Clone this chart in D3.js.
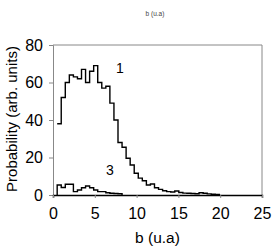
<!DOCTYPE html>
<html>
<head>
<meta charset="utf-8">
<script src="https://cdn.jsdelivr.net/npm/d3@7"></script>
<style>
  body { margin: 0; background: #fff; }
  text { font-family: "Liberation Sans", Arial, sans-serif; fill: #000; }
</style>
</head>
<body>
<div id="chart"></div>
<script>
// histogram bins start at 0.5
const binStart = 0.5;
const binWidth = 0.485;
const curve1 = [38, 52, 60, 64, 63, 62, 67, 60, 66, 69, 60, 57, 58, 49, 40, 28,
  25.5, 19.6, 16, 11.6, 9, 7.6, 5.3, 5.9, 3.9, 3, 2.3, 1.8, 1.6, 2.1, 1.3, 1.0,
  0.9, 0.8, 0.7, 1.2, 0.9, 0.6, 0.4, 0.3];
const curve3 = [5.3, 4.0, 5.7, 5.7, 1.8, 2.7, 3.9, 4.8, 3.9, 2.7, 1.8, 1.8, 1.2,
  0.9, 0.8, 0.7];
const xTicks = [0, 5, 10, 15, 20, 25];
const yTicks = [0, 20, 40, 60, 80];
const curveLabels = [
  { text: '1', x: 8.0, y: 65 },
  { text: '3', x: 6.8, y: 10.5 }
];

const width = 273, height = 249;
const margin = { left: 53, right: 11, top: 45, bottom: 54 };

const svg = d3.select('#chart').append('svg')
  .attr('width', width)
  .attr('height', height);

const x = d3.scaleLinear().domain([0, 25]).range([margin.left, width - margin.right]);
const y = d3.scaleLinear().domain([0, 80]).range([height - margin.bottom, margin.top]);

// small caption at the top
svg.append('text')
  .attr('x', 155)
  .attr('y', 16)
  .attr('text-anchor', 'middle')
  .style('font-size', '6.5px')
  .style('fill', '#444')
  .text('b (u.a)');

// frame: top and right
svg.append('line')
  .attr('x1', x(0)).attr('x2', x(25))
  .attr('y1', y(80)).attr('y2', y(80))
  .attr('stroke', '#888');
svg.append('line')
  .attr('x1', x(25)).attr('x2', x(25))
  .attr('y1', y(80)).attr('y2', y(0))
  .attr('stroke', '#888');

const yAxis = svg.append('g')
  .attr('transform', `translate(${margin.left},0)`)
  .call(d3.axisLeft(y).tickValues(yTicks).tickSize(4).tickPadding(6));
yAxis.select('.domain').attr('stroke', '#888');
yAxis.selectAll('.tick line').attr('stroke', '#888');
yAxis.selectAll('text')
  .style('font-size', '16px')
  .style('font-family', '"Liberation Sans", Arial, sans-serif')
  .attr('fill', '#000');

const xAxis = svg.append('g')
  .attr('transform', `translate(0,${height - margin.bottom})`)
  .call(d3.axisBottom(x).tickValues(xTicks).tickSize(3).tickPadding(10));
xAxis.select('.domain').attr('stroke', '#000').attr('stroke-width', 1.4);
xAxis.selectAll('.tick line').attr('stroke', '#888');
xAxis.selectAll('text')
  .style('font-size', '16px')
  .style('font-family', '"Liberation Sans", Arial, sans-serif')
  .attr('fill', '#000');

// axis titles
svg.append('text')
  .attr('x', x(12.5))
  .attr('y', 243)
  .attr('text-anchor', 'middle')
  .style('font-size', '15.5px')
  .text('b (u.a)');

svg.append('text')
  .attr('transform', `translate(17,${(y(0) + y(80)) / 2 - 1}) rotate(-90)`)
  .attr('text-anchor', 'middle')
  .style('font-size', '15px')
  .text('Probability (arb. units)');

function stepPoints(values) {
  const pts = values.map((v, i) => [binStart + i * binWidth, v]);
  pts.push([binStart + values.length * binWidth, values[values.length - 1]]);
  pts.push([binStart + values.length * binWidth, 0]);
  return pts;
}

const line = d3.line()
  .x(d => x(d[0]))
  .y(d => y(d[1]))
  .curve(d3.curveStepAfter);

[curve1, curve3].forEach((c, i) => {
  const pts = stepPoints(c);
  if (i === 1) pts.unshift([binStart, 0]);
  svg.append('path')
    .datum(pts)
    .attr('d', line)
    .attr('fill', 'none')
    .attr('stroke', '#000')
    .attr('stroke-width', 1.4);
});

svg.selectAll('.curve-label')
  .data(curveLabels)
  .join('text')
  .attr('class', 'curve-label')
  .attr('x', d => x(d.x))
  .attr('y', d => y(d.y))
  .attr('text-anchor', 'middle')
  .style('font-size', '14px')
  .text(d => d.text);
</script>
</body>
</html>
